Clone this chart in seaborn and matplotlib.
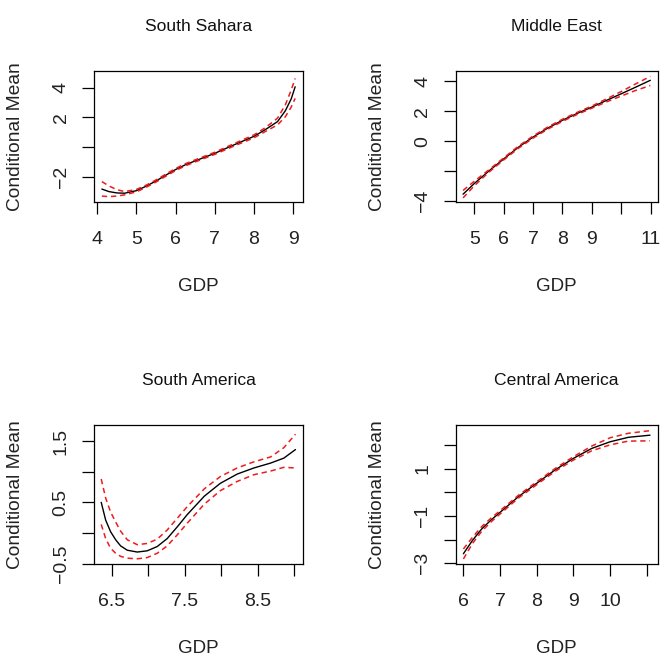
import numpy as np
import pandas as pd
import matplotlib
matplotlib.use("Agg")
import matplotlib.pyplot as plt
import seaborn as sns

# South Sahara
ss_gdp = [4.12, 4.3, 4.5, 4.7, 5.0, 5.25, 5.5, 5.75, 6.0, 6.25, 6.5, 7.0, 7.5, 8.0, 8.3, 8.6, 8.8, 8.95, 9.05]
ss_mean = [-2.81, -2.98, -3.07, -3.09, -2.92, -2.62, -2.27, -1.88, -1.50, -1.18, -0.92, -0.41, 0.17, 0.73, 1.20, 1.72, 2.45, 3.25, 4.06]
ss_upper = [-2.31, -2.60, -2.85, -2.98, -2.84, -2.55, -2.20, -1.81, -1.43, -1.11, -0.85, -0.34, 0.25, 0.83, 1.33, 1.95, 2.85, 3.85, 4.62]
ss_lower = [-3.28, -3.32, -3.28, -3.20, -3.00, -2.69, -2.34, -1.95, -1.57, -1.25, -0.99, -0.48, 0.09, 0.63, 1.07, 1.50, 2.05, 2.70, 3.28]

# Middle East
me_gdp = [4.62, 5.0, 5.5, 6.0, 6.5, 7.0, 7.5, 8.0, 8.5, 9.0, 9.5, 10.0, 10.5, 10.99]
me_mean = [-3.53, -2.82, -1.98, -1.18, -0.40, 0.28, 0.88, 1.40, 1.86, 2.28, 2.73, 3.17, 3.62, 4.07]
me_upper = [-3.28, -2.67, -1.90, -1.11, -0.33, 0.35, 0.95, 1.47, 1.93, 2.35, 2.83, 3.32, 3.84, 4.33]
me_lower = [-3.78, -2.97, -2.06, -1.25, -0.47, 0.21, 0.81, 1.33, 1.79, 2.21, 2.63, 3.02, 3.40, 3.72]

# South America
sa_gdp = [6.357, 6.418, 6.486, 6.555, 6.623, 6.714, 6.851, 6.988, 7.125, 7.262, 7.399, 7.536,
          7.77, 7.99, 8.22, 8.45, 8.68, 8.86, 9.02]
sa_mean = [0.50, 0.21, 0.02, -0.11, -0.21, -0.28, -0.31, -0.29, -0.22, -0.09, 0.10, 0.30,
           0.60, 0.81, 0.96, 1.06, 1.14, 1.22, 1.36]
sa_upper = [0.88, 0.57, 0.34, 0.18, 0.03, -0.11, -0.19, -0.17, -0.10, 0.05, 0.24, 0.43,
            0.72, 0.92, 1.06, 1.16, 1.24, 1.39, 1.61]
sa_lower = [0.14, -0.09, -0.25, -0.33, -0.38, -0.41, -0.42, -0.40, -0.33, -0.21, -0.03, 0.16,
            0.47, 0.69, 0.84, 0.95, 1.01, 1.07, 1.06]

# Central America
ca_gdp = [6.0, 6.25, 6.5, 6.75, 7.0, 7.5, 8.0, 8.5, 9.0, 9.5, 10.0, 10.5, 11.09]
ca_mean = [-2.60, -2.03, -1.55, -1.18, -0.85, -0.19, 0.38, 0.94, 1.43, 1.85, 2.13, 2.32, 2.41]
ca_upper = [-2.40, -1.90, -1.45, -1.10, -0.78, -0.13, 0.44, 1.00, 1.50, 1.95, 2.30, 2.49, 2.60]
ca_lower = [-2.82, -2.16, -1.65, -1.26, -0.92, -0.25, 0.32, 0.88, 1.36, 1.75, 2.00, 2.16, 2.17]

panels = [
    dict(title="South Sahara", gdp=ss_gdp, mean=ss_mean, upper=ss_upper, lower=ss_lower,
         xticks=[4, 5, 6, 7, 8, 9], xlabels=["4", "5", "6", "7", "8", "9"],
         yticks=[-2, 0, 2, 4], ylabels=["\u22122", "", "2", "4"],
         xlim=(3.92, 9.25), ylim=(-3.68, 5.12),
         rect=[94, 71, 209, 131]),
    dict(title="Middle East", gdp=me_gdp, mean=me_mean, upper=me_upper, lower=me_lower,
         xticks=[5, 6, 7, 8, 9, 10, 11], xlabels=["5", "6", "7", "8", "9", "", "11"],
         yticks=[-4, -2, 0, 2, 4], ylabels=["\u22124", "", "0", "2", "4"],
         xlim=(4.37, 11.24), ylim=(-4.05, 4.69),
         rect=[455.7, 71, 202, 131]),
    dict(title="South America", gdp=sa_gdp, mean=sa_mean, upper=sa_upper, lower=sa_lower,
         xticks=[6.5, 7.0, 7.5, 8.0, 8.5, 9.0], xlabels=["6.5", "", "7.5", "", "8.5", ""],
         yticks=[-0.5, 0.0, 0.5, 1.0, 1.5], ylabels=["\u22120.5", "", "0.5", "", "1.5"],
         xlim=(6.258, 9.123), ylim=(-0.50, 1.76),
         rect=[94, 425, 209, 138.7]),
    dict(title="Central America", gdp=ca_gdp, mean=ca_mean, upper=ca_upper, lower=ca_lower,
         xticks=[6, 7, 8, 9, 10, 11], xlabels=["6", "7", "8", "9", "10", ""],
         yticks=[-3, -2, -1, 0, 1, 2], ylabels=["\u22123", "", "\u22121", "", "1", ""],
         xlim=(5.79, 11.3), ylim=(-3.02, 2.84),
         rect=[455.7, 425, 202, 138.7]),
]

sns.set_style("ticks")
plt.rcParams["font.family"] = ["Liberation Sans", "DejaVu Sans"]

W, H = 669, 656
fig = plt.figure(figsize=(W / 100, H / 100), dpi=100)

for p in panels:
    left, top, w, h = p["rect"]
    ax = fig.add_axes([left / W, 1 - (top + h) / H, w / W, h / H])
    df = pd.DataFrame({"GDP": p["gdp"], "mean": p["mean"], "upper": p["upper"], "lower": p["lower"]})

    sns.lineplot(data=df, x="GDP", y="mean", color="black", linewidth=1.0, ax=ax)
    for col in ["upper", "lower"]:
        sns.lineplot(data=df, x="GDP", y=col, color="#ee1c1c", linewidth=1.1,
                     linestyle=(0, (3.5, 2.5)), ax=ax)

    ax.set_xlim(*p["xlim"])
    ax.set_ylim(*p["ylim"])
    ax.set_xticks(p["xticks"])
    ax.set_xticklabels(p["xlabels"])
    ax.set_yticks(p["yticks"])
    ax.set_yticklabels(p["ylabels"], rotation=90, va="center")

    ax.tick_params(axis="both", direction="out", length=8.6, width=0.9, color="black",
                   labelsize=14, labelcolor="#222222")
    ax.tick_params(axis="x", pad=12.5)
    ax.tick_params(axis="y", pad=9)

    for s in ax.spines.values():
        s.set_visible(True)
        s.set_color("black")
        s.set_linewidth(0.9)

    ax.set_title(p["title"], fontsize=12.6, pad=28.8, color="#111111")
    ax.set_xlabel("GDP", fontsize=13.5, va="baseline", color="#222222")
    ax.xaxis.set_label_coords(0.5, -89 / h)
    ax.set_ylabel("Conditional Mean", fontsize=13.8, va="baseline", color="#222222")
    ax.yaxis.set_label_coords(-74 / w, 0.5)

fig.savefig("out.png", dpi=100)
